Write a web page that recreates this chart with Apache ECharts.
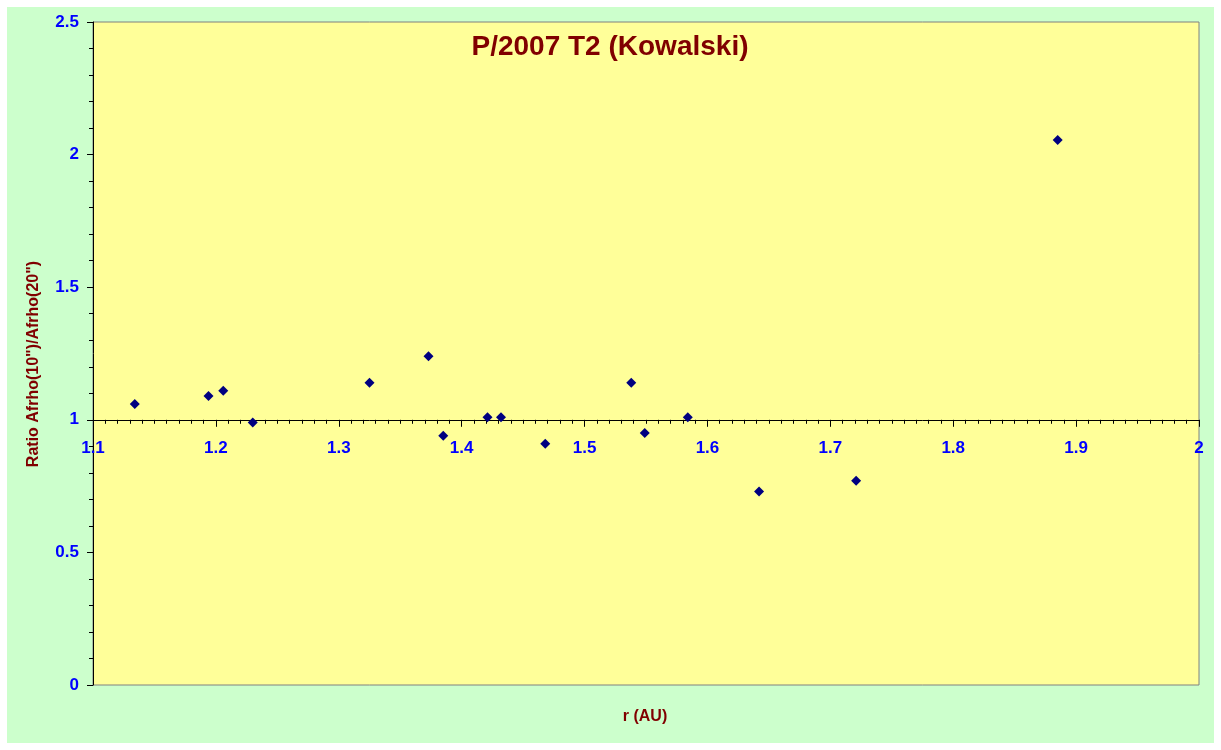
<!DOCTYPE html>
<html>
<head>
<meta charset="utf-8">
<script src="https://cdn.jsdelivr.net/npm/echarts@6/dist/echarts.min.js"></script>
<style>
html,body{margin:0;padding:0;background:#ffffff;width:1221px;height:750px;overflow:hidden;}
#chart{position:absolute;left:7px;top:7px;width:1207px;height:736px;}
</style>
</head>
<body>
<div id="chart"></div>
<script>
// Data
const rAU = [1.134, 1.194, 1.206, 1.230, 1.325, 1.373, 1.385, 1.421, 1.432, 1.468, 1.538, 1.549, 1.584, 1.642, 1.721, 1.885];
const ratio = [1.06, 1.09, 1.11, 0.99, 1.14, 1.24, 0.94, 1.01, 1.01, 0.91, 1.14, 0.95, 1.01, 0.73, 0.77, 2.055];
const chartTitle = 'P/2007 T2 (Kowalski)';
const xTitle = 'r (AU)';
const yTitle = 'Ratio Afrho(10")/Afrho(20")';
const xMin = 1.1, xMax = 2.0, xStep = 0.1;
const yMin = 0, yMax = 2.5, yStep = 0.5;
const xCrossAt = 1;

const points = rAU.map((r, i) => [r, ratio[i]]);

const gridLeft = 86, gridTop = 15, gridRight = 15, gridBottom = 58;
const W = 1207, H = 736;
const gridH = H - gridTop - gridBottom;
const xAxisOffset = -gridH * (xCrossAt - yMin) / (yMax - yMin);

const chart = echarts.init(document.getElementById('chart'), null, {renderer: 'canvas'});
const labelFont = {color: '#0000FF', fontWeight: 'bold', fontSize: 17, fontFamily: 'Liberation Sans, Arial, sans-serif'};
chart.setOption({
  backgroundColor: '#CCFFCC',
  animation: false,
  grid: {
    left: gridLeft, top: gridTop, right: gridRight, bottom: gridBottom,
    show: true, backgroundColor: '#FFFF99', borderColor: '#808080', borderWidth: 1
  },
  xAxis: {
    type: 'value', min: xMin, max: xMax, interval: xStep,
    position: 'bottom', offset: xAxisOffset,
    axisLine: {onZero: false, lineStyle: {color: '#000000', width: 1}},
    axisTick: {show: true, inside: false, length: 7, lineStyle: {color: '#000000'}},
    minorTick: {show: true, splitNumber: 10, length: 4, lineStyle: {color: '#000000'}},
    splitLine: {show: false},
    axisLabel: Object.assign({margin: 20, showMinLabel: true, showMaxLabel: true,
      formatter: v => String(Math.round(v * 10) / 10)}, labelFont)
  },
  yAxis: {
    type: 'value', min: yMin, max: yMax, interval: yStep,
    axisLine: {show: true, onZero: false, lineStyle: {color: '#000000', width: 1}},
    axisTick: {show: true, inside: false, length: 6, lineStyle: {color: '#000000'}},
    minorTick: {show: true, splitNumber: 5, length: 4, lineStyle: {color: '#000000'}},
    splitLine: {show: false},
    axisLabel: Object.assign({margin: 14, formatter: v => String(Math.round(v * 10) / 10)}, labelFont)
  },
  series: [{
    type: 'scatter',
    data: points,
    symbol: 'diamond',
    symbolSize: [10, 10],
    itemStyle: {color: '#000080', opacity: 1},
    z: 5
  }],
  graphic: [
    {type: 'text', x: 603, y: 40,
     style: {text: chartTitle, align: 'center', verticalAlign: 'middle',
       fill: '#800000', font: 'bold 28px "Liberation Sans", Arial, sans-serif'}},
    {type: 'text', x: 638, y: 710,
     style: {text: xTitle, align: 'center', verticalAlign: 'middle',
       fill: '#800000', font: 'bold 16px "Liberation Sans", Arial, sans-serif'}},
    {type: 'text', x: 27, y: 357, rotation: Math.PI / 2,
     style: {text: yTitle, align: 'center', verticalAlign: 'middle',
       fill: '#800000', font: 'bold 16px "Liberation Sans", Arial, sans-serif'}}
  ]
});
</script>
</body>
</html>
